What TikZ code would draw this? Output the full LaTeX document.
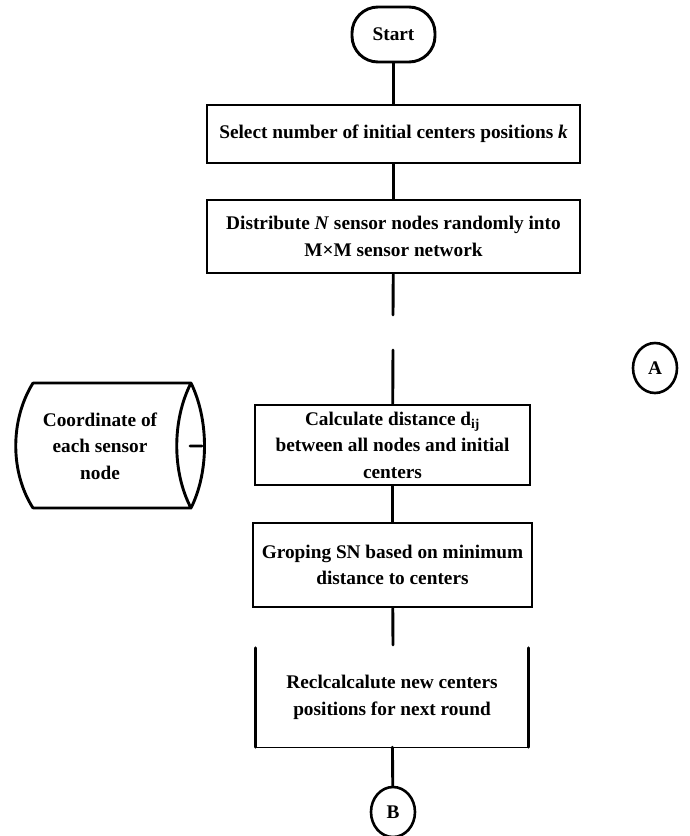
\documentclass[tikz,border=0pt]{standalone}
\usepackage{fontspec}
\setmainfont{Liberation Serif}
\usetikzlibrary{shapes.geometric}
\tikzset{
  ln/.style={line width=2.9pt, line cap=round},
  boxnode/.style={draw, line width=2.9pt, line cap=round, align=center, font=\fs, inner sep=0pt},
  plain/.style={align=center, font=\fs, inner sep=0pt},
  conn/.style={draw, ellipse, line width=2.6pt, font=\fs, inner sep=0pt, minimum width=44pt, minimum height=50pt}
}
\newcommand{\fs}{\fontsize{19.3}{26.5}\selectfont\bfseries}
\begin{document}
\begin{tikzpicture}[x=1pt,y=-1pt]
\path[use as bounding box] (0,0) rectangle (689,836);
% start
\node[draw, line width=2.9pt, rounded corners=26pt, font=\fs, minimum width=83pt, minimum height=55pt, inner sep=0pt] (start) at (393.5,34.5) {Start};
\node[boxnode, minimum width=373pt, minimum height=58pt] (b1) at (393.5,134) {Select number of initial centers positions \textit{k}};
\node[boxnode, minimum width=373pt, minimum height=73pt] (b2) at (393.5,236.5) {Distribute \textit{N} sensor nodes randomly into\\M×M sensor network};
\coordinate (g1) at (393,315);
\coordinate (g2) at (393,350);
\node[conn] (A) at (655,368) {A};
\node[boxnode, minimum width=275pt, minimum height=80pt] (b3) at (392.5,445) {Calculate distance d\textsubscript{ij}\\between all nodes and initial\\centers};
\node[boxnode, minimum width=279pt, minimum height=84pt] (b4) at (392.5,565) {Groping SN based on minimum\\distance to centers};
\coordinate (g3) at (393,645);
\node[plain, minimum width=272pt, minimum height=99pt] (b5) at (392,697.5) {Reclcalcalute new centers\\positions for next round};
\node[conn] (B) at (393,812) {B};
% data store (cylinder)
\node[plain] (cyl) at (100,446) {Coordinate of\\each sensor\\node};
\draw[ln] (33,383) -- (191,383)
  (33,508) -- (191,508)
  (33,383) .. controls (10,420) and (10,472) .. (33,508)
  (191,383) .. controls (172,420) and (172,472) .. (191,508)
  (191,383) .. controls (209,420) and (209,472) .. (191,508)
  (190,446) -- (202,446);
% box 5 sides
\draw[ln] (b5.north west) -- (b5.south west);
\draw[ln] (b5.north east) -- (b5.south east);
\draw[line width=1pt] (b5.south west) -- (b5.south east);
% connectors
\draw[ln] (start) -- (b1);
\draw[ln] (b1) -- (b2);
\draw[ln] (b2) -- (g1);
\draw[ln] (g2) -- (b3);
\draw[ln] (b3) -- (b4);
\draw[ln] (b4) -- (g3);
\draw[ln] (b5) -- (B);
\end{tikzpicture}
\end{document}
